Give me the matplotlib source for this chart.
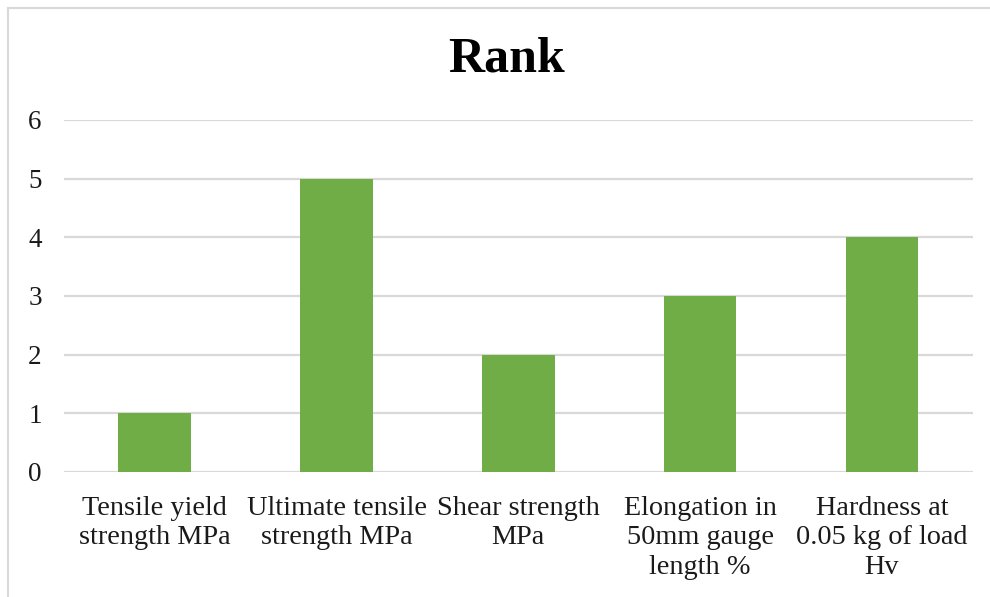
import matplotlib.pyplot as plt
from matplotlib.lines import Line2D

# data
categories = ['Tensile yield\nstrength MPa', 'Ultimate tensile\nstrength MPa',
              'Shear strength\nMPa', 'Elongation in\n50mm gauge\nlength %',
              'Hardness at\n0.05 kg of load\nHv']
rank = [1, 5, 2, 3, 4]
yticks = [0, 1, 2, 3, 4, 5, 6]

plt.rcParams['font.family'] = ['Liberation Serif', 'DejaVu Serif']

fig = plt.figure(figsize=(9.9, 5.97), dpi=100)
ax = fig.add_axes([0.0646, 0.2094, 0.918, 0.5896])

x = list(range(len(categories)))
ax.bar(x, rank, width=0.4, color='#70AD47', zorder=3)

ax.set_xlim(-0.5, len(categories) - 0.5)
ax.set_ylim(0, 6)
ax.set_yticks(yticks)
ax.set_xticks(x)
ax.set_xticklabels(categories, fontsize=20.3, linespacing=1.25, color='#1a1a1a')
ax.tick_params(axis='y', labelsize=19.5, length=0, pad=16, labelcolor='#1a1a1a')
ax.tick_params(axis='x', length=0, pad=17)
ax.grid(axis='y', color='#D9D9D9', linewidth=1.6, zorder=0)
for s in ax.spines.values():
    s.set_visible(False)

fig.text(507 / 990, 0.9, 'Rank', ha='center', va='center',
         fontsize=36, fontweight='bold', color='black')

# chart border (only top and left visible in the crop)
fig.add_artist(Line2D([8 / 990, 1], [1 - 8 / 597, 1 - 8 / 597], transform=fig.transFigure,
                      color='#D9D9D9', linewidth=1.5))
fig.add_artist(Line2D([8 / 990, 8 / 990], [0, 1 - 8 / 597], transform=fig.transFigure,
                      color='#D9D9D9', linewidth=1.5))

fig.savefig('out.png', dpi=100)
